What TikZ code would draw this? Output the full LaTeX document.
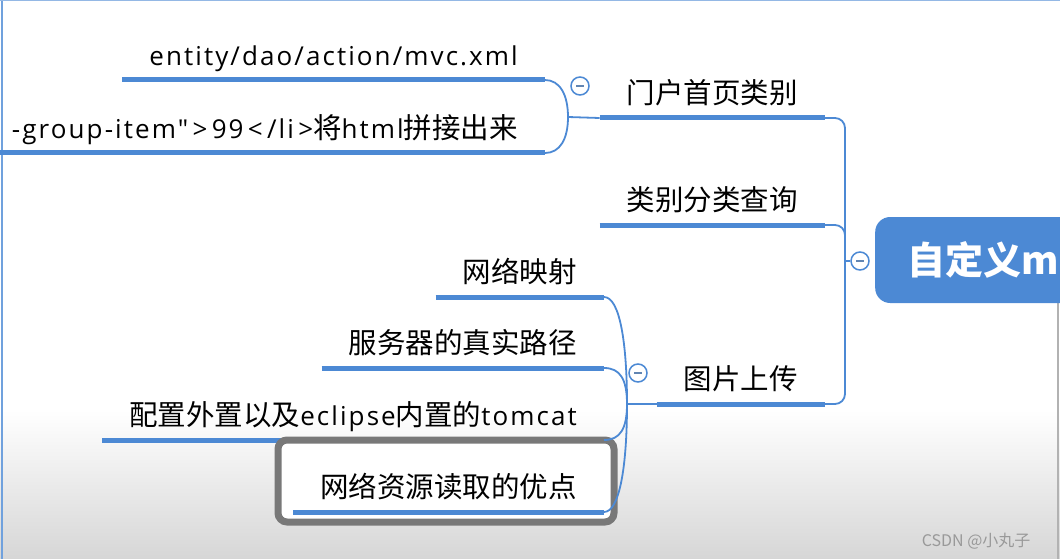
\documentclass[tikz,border=0pt]{standalone}
\usepackage{fontspec}
\setmainfont{Open Sans}[Ligatures=TeXOff,LetterSpace=8]
\newfontfamily\cjkfont{Noto Sans CJK SC}
\newcommand\zhtext[1]{{\cjkfont\fontsize{28.5}{32}\selectfont #1}}
\usepackage{xcolor}
\definecolor{accent}{RGB}{76,137,212}
\definecolor{selgray}{RGB}{120,120,120}
\usepackage{tikz}
\usetikzlibrary{arrows.meta,positioning,calc}
\tikzset{
  topic/.style={font=\fontsize{26}{32}\selectfont,inner xsep=27pt,inner ysep=14pt,%
    text height=20pt,text depth=0pt},
  root/.style={fill=accent,rounded corners=15pt,text=white,%
    font=\cjkfont\fontsize{38}{44}\selectfont\bfseries,minimum height=86pt,%
    text width=230pt,align=left,inner xsep=32pt},
  uline/.style={line width=5pt,draw=accent},
  link/.style={line width=1.8pt,draw=accent},
  fold/.style={circle,draw=accent,line width=1.5pt,fill=white,minimum size=18pt,inner sep=0pt,%
    path picture={\draw[accent!60!gray,line width=1.4pt]
      ([xshift=-4pt]path picture bounding box.center) -- ([xshift=4pt]path picture bounding box.center);}},
  selbox/.style={draw=selgray,line width=7pt,rounded corners=9pt,fill=white},
}

\begin{document}
\begin{tikzpicture}[x=1pt,y=-1pt]
\useasboundingbox (0,0) rectangle (1060,559);
\clip (0,0) rectangle (1060,559);
\fill[top color=white,bottom color=gray!32] (0,410) rectangle (1060,559);
\draw[accent!80!white,line width=2pt] (2,0) -- (2,559);
\draw[accent!60!white,line width=1pt] (0,0.5) -- (1060,0.5);
\draw[gray!60,line width=1.5pt] (1058,270) -- (1058,559);

\node[root,anchor=west] (rootnode) at (875,260) {自定义m};
\node[fold] (rootfold) at (860,261) {};
\coordinate (hub) at (845,261);

\node[topic,anchor=south east] (portal) at (825,118) {\zhtext{门户首页类别}};
\node[topic,anchor=south east] (query) at (825,225) {\zhtext{类别分类查询}};
\node[topic,anchor=south east] (upload) at (825,404) {\zhtext{图片上传}};
\draw[link] (hub) -- (rootfold);
\foreach \n in {portal,query,upload}
  \draw[link,rounded corners=10pt] (hub) |- (\n.south east);

\node[topic,anchor=south east] (files) at (545,80) {entity/dao/action/mvc.xml};
\node[topic,anchor=south east] (joinhtml) at (545,153)
  {-group-item"\,>\,99\,<\,/li\,>\zhtext{将}html\zhtext{拼接出来}};
\coordinate (portaljoin) at (568,117);
\draw[link] (portal.south west) -- (portaljoin);
\foreach \n/\d in {files/-22,joinhtml/22}
  \draw[link] (\n.south east) .. controls +(15,0) and +(0,\d) .. (portaljoin);
\node[fold] (portalfold) at (580,86) {};

\node[topic,anchor=south east] (netmap) at (604,297) {\zhtext{网络映射}};
\node[topic,anchor=south east] (realpath) at (604,368) {\zhtext{服务器的真实路径}};
\node[topic,anchor=south east] (tomcat) at (604,440) {\zhtext{配置外置以及}eclipse\zhtext{内置的}tomcat};
\coordinate (picjoin) at (627,404);
\draw[link] (upload.south west) -- (picjoin);

\foreach \n in {portal,query,upload,files,joinhtml,netmap,realpath,tomcat}
  \draw[uline] (\n.south west) -- (\n.south east);

\draw[selbox] (278,440) rectangle (614,522);
\node[topic,anchor=south east] (merit) at (604,512) {\zhtext{网络资源读取的优点}};
\draw[uline] (merit.south west) -- (merit.south east);

\foreach \n/\d in {netmap/-60,realpath/-25,tomcat/25,merit/60}
  \draw[link] (\n.south east) .. controls +(16,0) and +(0,\d) .. (picjoin);
\node[fold] (uploadfold) at (638,373) {};

\node[font=\cjkfont\fontsize{16}{18}\selectfont,text=black!40,anchor=east] (mark) at (1034,541) {CSDN @小丸子};
\end{tikzpicture}
\end{document}
